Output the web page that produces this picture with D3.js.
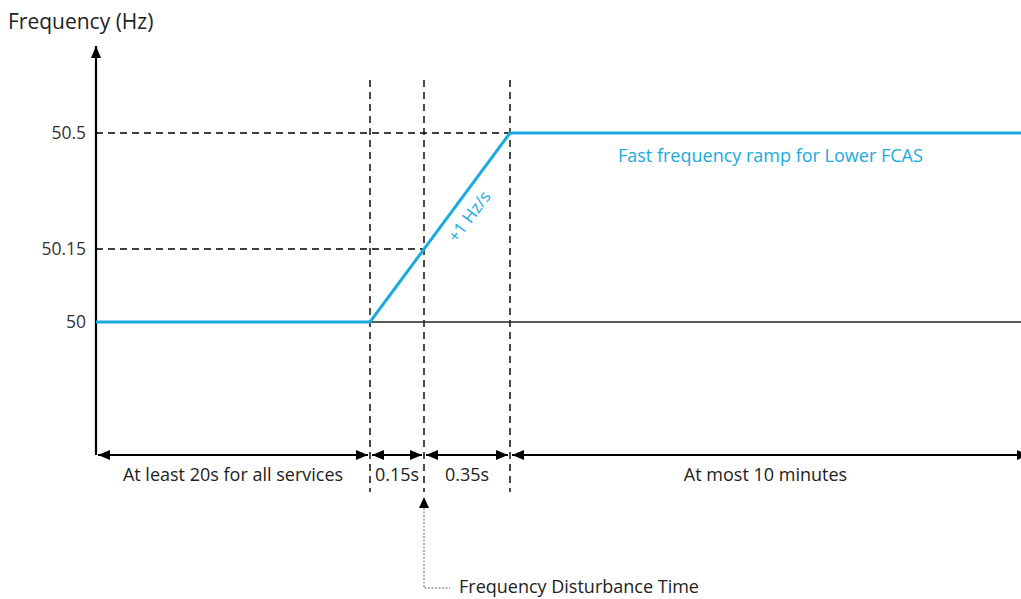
<!DOCTYPE html>
<html>
<head>
<meta charset="utf-8">
<script src="https://cdn.jsdelivr.net/npm/d3@7"></script>
<style>
  body { margin: 0; background: #fff; }
  text { font-family: "Open Sans", "Noto Sans", sans-serif; }
</style>
</head>
<body>
<div id="chart"></div>
<script>
// values
const yTicks = [50, 50.15, 50.5];
const timeBreaks = [0, 20, 20.15, 20.5, 620]; // seconds
const rampTime = [0, 20, 20.5, 620];
const rampFreq = [50, 50, 50.5, 50.5];
const spanFrom = [0, 20, 20.15, 20.5];
const spanTo = [20, 20.15, 20.5, 620];
const spanLabels = ["At least 20s for all services", "0.15s", "0.35s", "At most 10 minutes"];
const guideFreq = [50.5, 50.15];
const guideTime = [20.5, 20.15];

const W = 1021, H = 599;
const blue = "#1aa9e0";

const svg = d3.select("#chart").append("svg")
  .attr("width", W).attr("height", H);

// schematic (not to scale) piecewise scales
const x = d3.scaleLinear().domain(timeBreaks).range([96, 370, 424, 510, 1021]);
const y = d3.scaleLinear().domain([50, 50.15, 50.5]).range([322, 249, 133]);

const defs = svg.append("defs");
function marker(id, path) {
  defs.append("marker")
    .attr("id", id)
    .attr("viewBox", "0 0 12 10")
    .attr("refX", 12).attr("refY", 5)
    .attr("markerWidth", 12).attr("markerHeight", 10)
    .attr("markerUnits", "userSpaceOnUse")
    .attr("orient", "auto-start-reverse")
    .append("path").attr("d", path).attr("fill", "#000");
}
marker("arr", "M0,0L12,5L0,10Z");

// title
svg.append("text").attr("x", 8).attr("y", 29)
  .attr("font-size", 21).attr("fill", "#222").text("Frequency (Hz)");

// dashed guides
const vLines = timeBreaks.slice(1, 4);
svg.selectAll(".vdash").data(vLines).enter().append("line")
  .attr("x1", d => x(d)).attr("x2", d => x(d))
  .attr("y1", 80).attr("y2", 492)
  .attr("stroke", "#000").attr("stroke-width", 1.4)
  .attr("stroke-dasharray", "7,5");

svg.selectAll(".hdash").data(guideFreq).enter().append("line")
  .attr("x1", x(0)).attr("x2", (d, i) => x(guideTime[i]))
  .attr("y1", d => y(d)).attr("y2", d => y(d))
  .attr("stroke", "#000").attr("stroke-width", 1.4)
  .attr("stroke-dasharray", "7,5");

// horizontal baseline at 50 Hz
svg.append("line")
  .attr("x1", x(0)).attr("x2", W + 2)
  .attr("y1", y(50)).attr("y2", y(50))
  .attr("stroke", "#222").attr("stroke-width", 1.3);

// y axis
svg.append("line")
  .attr("x1", x(0)).attr("x2", x(0))
  .attr("y1", 455).attr("y2", 46)
  .attr("stroke", "#000").attr("stroke-width", 2.2)
  .attr("marker-end", "url(#arr)");

const yAxis = svg.append("g")
  .attr("transform", "translate(" + x(0) + ",0)")
  .call(d3.axisLeft(y).tickValues(yTicks).tickSize(0).tickPadding(10)
    .tickFormat(d => String(d)));
yAxis.select(".domain").remove();
yAxis.selectAll("text")
  .attr("font-size", 17.5).attr("fill", "#333")
  .style("font-family", "'Open Sans', 'Noto Sans', sans-serif");

// frequency ramp
const line = d3.line().x((d, i) => x(rampTime[i])).y(d => y(d));
svg.append("path")
  .attr("d", line(rampFreq))
  .attr("fill", "none").attr("stroke", blue).attr("stroke-width", 3);

svg.append("text")
  .attr("x", 618).attr("y", 162)
  .attr("font-size", 18).attr("fill", blue)
  .text("Fast frequency ramp for Lower FCAS");

const ang = Math.atan2(y(50) - y(50.5), x(20.5) - x(20)) * 180 / Math.PI;
svg.append("text")
  .attr("transform", "translate(474,220) rotate(" + (-ang) + ")")
  .attr("text-anchor", "middle")
  .attr("font-size", 17).attr("fill", blue)
  .text("+1 Hz/s");

// duration spans
const spanY = 455;
svg.selectAll(".span").data(spanLabels).enter().append("line")
  .attr("x1", (d, i) => x(spanFrom[i]) + 2)
  .attr("x2", (d, i) => x(spanTo[i]) - 2 + (i === 3 ? 10 : 0))
  .attr("y1", spanY).attr("y2", spanY)
  .attr("stroke", "#000").attr("stroke-width", 2)
  .attr("marker-start", "url(#arr)")
  .attr("marker-end", "url(#arr)");

svg.selectAll(".spanlbl").data(spanLabels).enter().append("text")
  .attr("x", (d, i) => (x(spanFrom[i]) + Math.min(x(spanTo[i]), W)) / 2)
  .attr("y", 481)
  .attr("text-anchor", "middle")
  .attr("font-size", 18).attr("fill", "#222")
  .text(d => d);

// disturbance time pointer
const tx = x(20.15);
svg.append("path")
  .attr("d", "M" + tx + ",497L" + (tx - 5) + ",508L" + (tx + 5) + ",508Z")
  .attr("fill", "#000");
svg.append("path")
  .attr("d", "M" + tx + ",508L" + tx + ",588L" + (tx + 26) + ",588")
  .attr("fill", "none").attr("stroke", "#555").attr("stroke-width", 0.9)
  .attr("stroke-dasharray", "2,1.5");
svg.append("text")
  .attr("x", tx + 35).attr("y", 593)
  .attr("font-size", 18).attr("fill", "#222")
  .text("Frequency Disturbance Time");
</script>
</body>
</html>
